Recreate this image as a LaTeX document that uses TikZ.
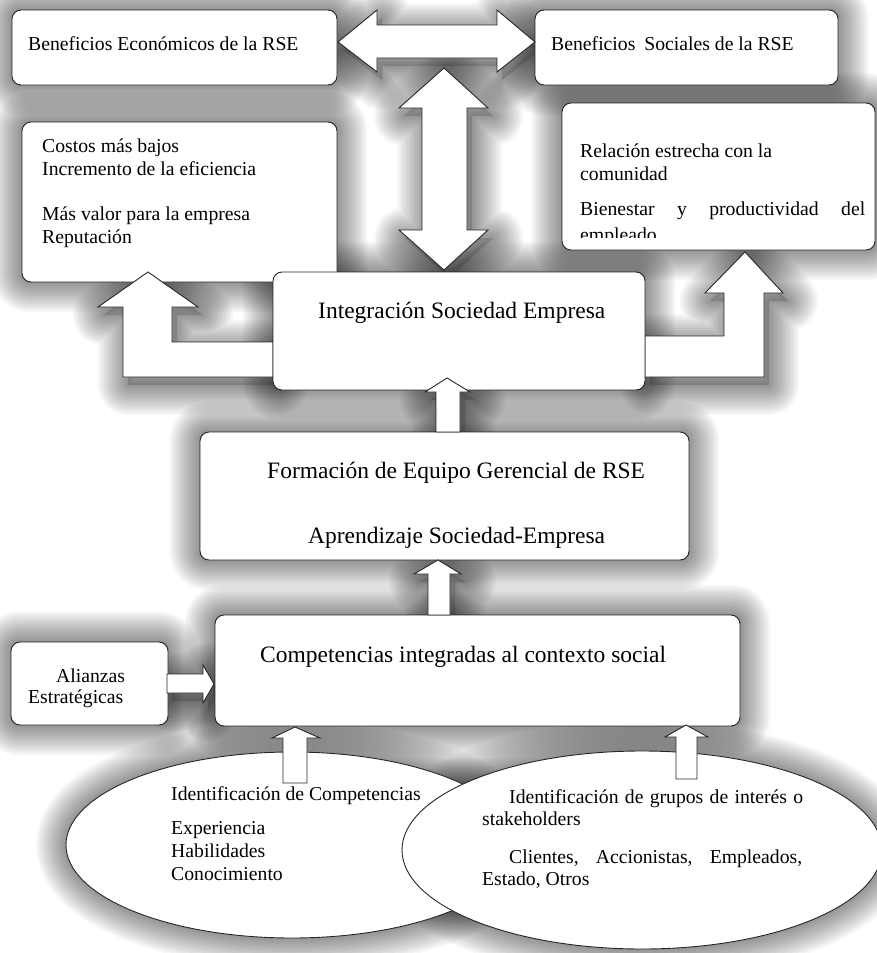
\documentclass[tikz,border=0pt]{standalone}
\usepackage{fontspec}
\setmainfont{Liberation Serif}
\usetikzlibrary{shapes.geometric}
\pgfdeclarelayer{paper}
\pgfdeclarelayer{bg}
\pgfsetlayers{paper,bg,main}
\tikzset{
  box/.style={draw=black!85, line width=0.9pt, fill=white, rounded corners=9pt, inner sep=0pt, rectangle},
  ell/.style={draw=black!85, line width=0.9pt, fill=white, ellipse, inner sep=0pt},
  blk/.style={draw=black!85, line width=0.9pt, fill=white, line join=miter},
  shdstroke/.style={draw=black, draw opacity=0.033, line join=round, shift={(5,8)}},
  shdfill/.style={fill=black, fill opacity=0.15, shift={(5,8)}},
  txs/.style={anchor=base west, inner sep=0pt, font=\fontsize{19.7}{23}\selectfont},
  txb/.style={anchor=base west, inner sep=0pt, font=\fontsize{23.5}{28}\selectfont},
}
\newcommand\softshadow[1]{%
  \path[shdfill] #1;%
  \foreach \w in {60,56,...,4}{\path[shdstroke, line width=\w pt] #1;}%
}
\def\pHarr{(338,42) -- (377,10) -- (377,25) -- (497,25) -- (497,10) -- (535,42) -- (497,72) -- (497,58) -- (377,58) -- (377,72) -- cycle}
\def\pVarr{(444,68) -- (488,108) -- (467,108) -- (467,230) -- (488,230) -- (444,270) -- (399,230) -- (422,230) -- (422,108) -- (399,108) -- cycle}
\def\pLarr{(148,272) -- (198,307) -- (172,307) -- (172,342) -- (273,342) -- (273,377) -- (123,377) -- (123,307) -- (98,307) -- cycle}
\def\pRarr{(745,252) -- (783,293) -- (764,293) -- (764,377) -- (645,377) -- (645,336) -- (724,336) -- (724,293) -- (705,293) -- cycle}
\def\pAone{(447,378) -- (470,392) -- (460,392) -- (460,432) -- (436,432) -- (436,392) -- (425,392) -- cycle}
\def\pAtwo{(438,560) -- (461,574) -- (450,574) -- (450,615) -- (428,615) -- (428,574) -- (414,574) -- cycle}
\def\pAthree{(167,674) -- (203,674) -- (203,665) -- (214,684) -- (203,703) -- (203,693) -- (167,693) -- cycle}
\def\pAfour{(295,727) -- (320,738) -- (307,738) -- (307,783) -- (283,783) -- (283,738) -- (272,738) -- cycle}
\def\pAfive{(686,725) -- (708,737) -- (697,737) -- (697,779) -- (676,779) -- (676,737) -- (665,737) -- cycle}
\begin{document}
\begin{tikzpicture}[x=1pt,y=-1pt]
\begin{pgfonlayer}{paper}
\fill[white] (0,0) rectangle (877,953);
\end{pgfonlayer}
\useasboundingbox (0,0) rectangle (877,953);

% boxes
\node[box, minimum width=325pt, minimum height=75pt] (econ) at (174.5,47.5) {};
\node[box, minimum width=303pt, minimum height=75pt] (soc) at (686.5,47.5) {};
\node[box, minimum width=315pt, minimum height=160pt] (costos) at (179.5,202) {};
\node[box, minimum width=313pt, minimum height=147pt] (rel) at (718.5,176.5) {};
\draw[blk] \pHarr;
\draw[blk] \pVarr;
\draw[blk] \pLarr;
\draw[blk] \pRarr;
\node[box, minimum width=372pt, minimum height=118pt] (integ) at (459,331) {};
\node[box, minimum width=489pt, minimum height=128pt] (form) at (444.5,496) {};
\draw[blk] \pAone;
\node[box, minimum width=525pt, minimum height=111pt] (comp) at (477.5,670.5) {};
\draw[blk] \pAtwo;
\node[box, minimum width=157pt, minimum height=83pt] (ali) at (89.5,683.5) {};
\draw[blk] \pAthree;
\node[ell, minimum width=452pt, minimum height=186pt] (elC) at (292,845) {};
\node[ell, minimum width=480pt, minimum height=198pt] (elS) at (642,850) {};
\draw[blk] \pAfour;
\draw[blk] \pAfive;

% soft shadows
\begin{pgfonlayer}{bg}
\foreach \n in {econ,soc,costos,rel,integ,form,comp,ali}{
  \softshadow{[rounded corners=9pt] (\n.south west) rectangle (\n.north east)}
}
\softshadow{\pHarr}
\softshadow{\pVarr}
\softshadow{\pLarr}
\softshadow{\pRarr}
\softshadow{\pAone}
\softshadow{\pAtwo}
\softshadow{\pAthree}
\softshadow{(elC.center) ellipse [x radius=226pt, y radius=93pt]}
\softshadow{(elS.center) ellipse [x radius=240pt, y radius=99pt]}
\end{pgfonlayer}

% texts
\node[txs] (t1) at (28,50) {Beneficios Económicos de la RSE};
\node[txs] (t2) at (551,50) {Beneficios\hspace{0.45em}Sociales de la RSE};
\node[txs] (t3) at (42,152) {Costos más bajos};
\node[txs] (t4) at (42,175) {Incremento de la eficiencia};
\node[txs] (t5) at (42,220) {Más valor para la empresa};
\node[txs] (t6) at (42,243) {Reputación};
\node[txs] (t7) at (580,157) {Relación estrecha con la};
\node[txs] (t8) at (580,180) {comunidad};
\node[txs] (t9) at (580,215) {\makebox[285pt][s]{Bienestar y productividad del}};
\begin{scope}
\clip (562,103) rectangle (875,237);
\node[txs] (t10) at (580,241) {empleado};
\end{scope}
\node[txb] (t11) at (318,318) {Integración Sociedad Empresa};
\node[txb] (t12) at (267,478) {Formación de Equipo Gerencial de RSE};
\node[txb] (t13) at (308,543) {Aprendizaje Sociedad-Empresa};
\node[txb] (t14) at (260,662) {Competencias integradas al contexto social};
\node[txs] (t15) at (56,682) {Alianzas};
\node[txs] (t16) at (28,703) {Estratégicas};
\node[txs] (t17) at (171,800) {Identificación de Competencias};
\node[txs] (t18) at (171,834) {Experiencia};
\node[txs] (t19) at (171,857) {Habilidades};
\node[txs] (t20) at (171,880) {Conocimiento};
\node[txs] (t21) at (509,803) {\makebox[294pt][s]{Identificación de grupos de interés o}};
\node[txs] (t22) at (482,825) {stakeholders};
\node[txs] (t23) at (509,863) {\makebox[293pt][s]{Clientes, Accionistas, Empleados,}};
\node[txs] (t24) at (482,885) {Estado, Otros};
\end{tikzpicture}
\end{document}
